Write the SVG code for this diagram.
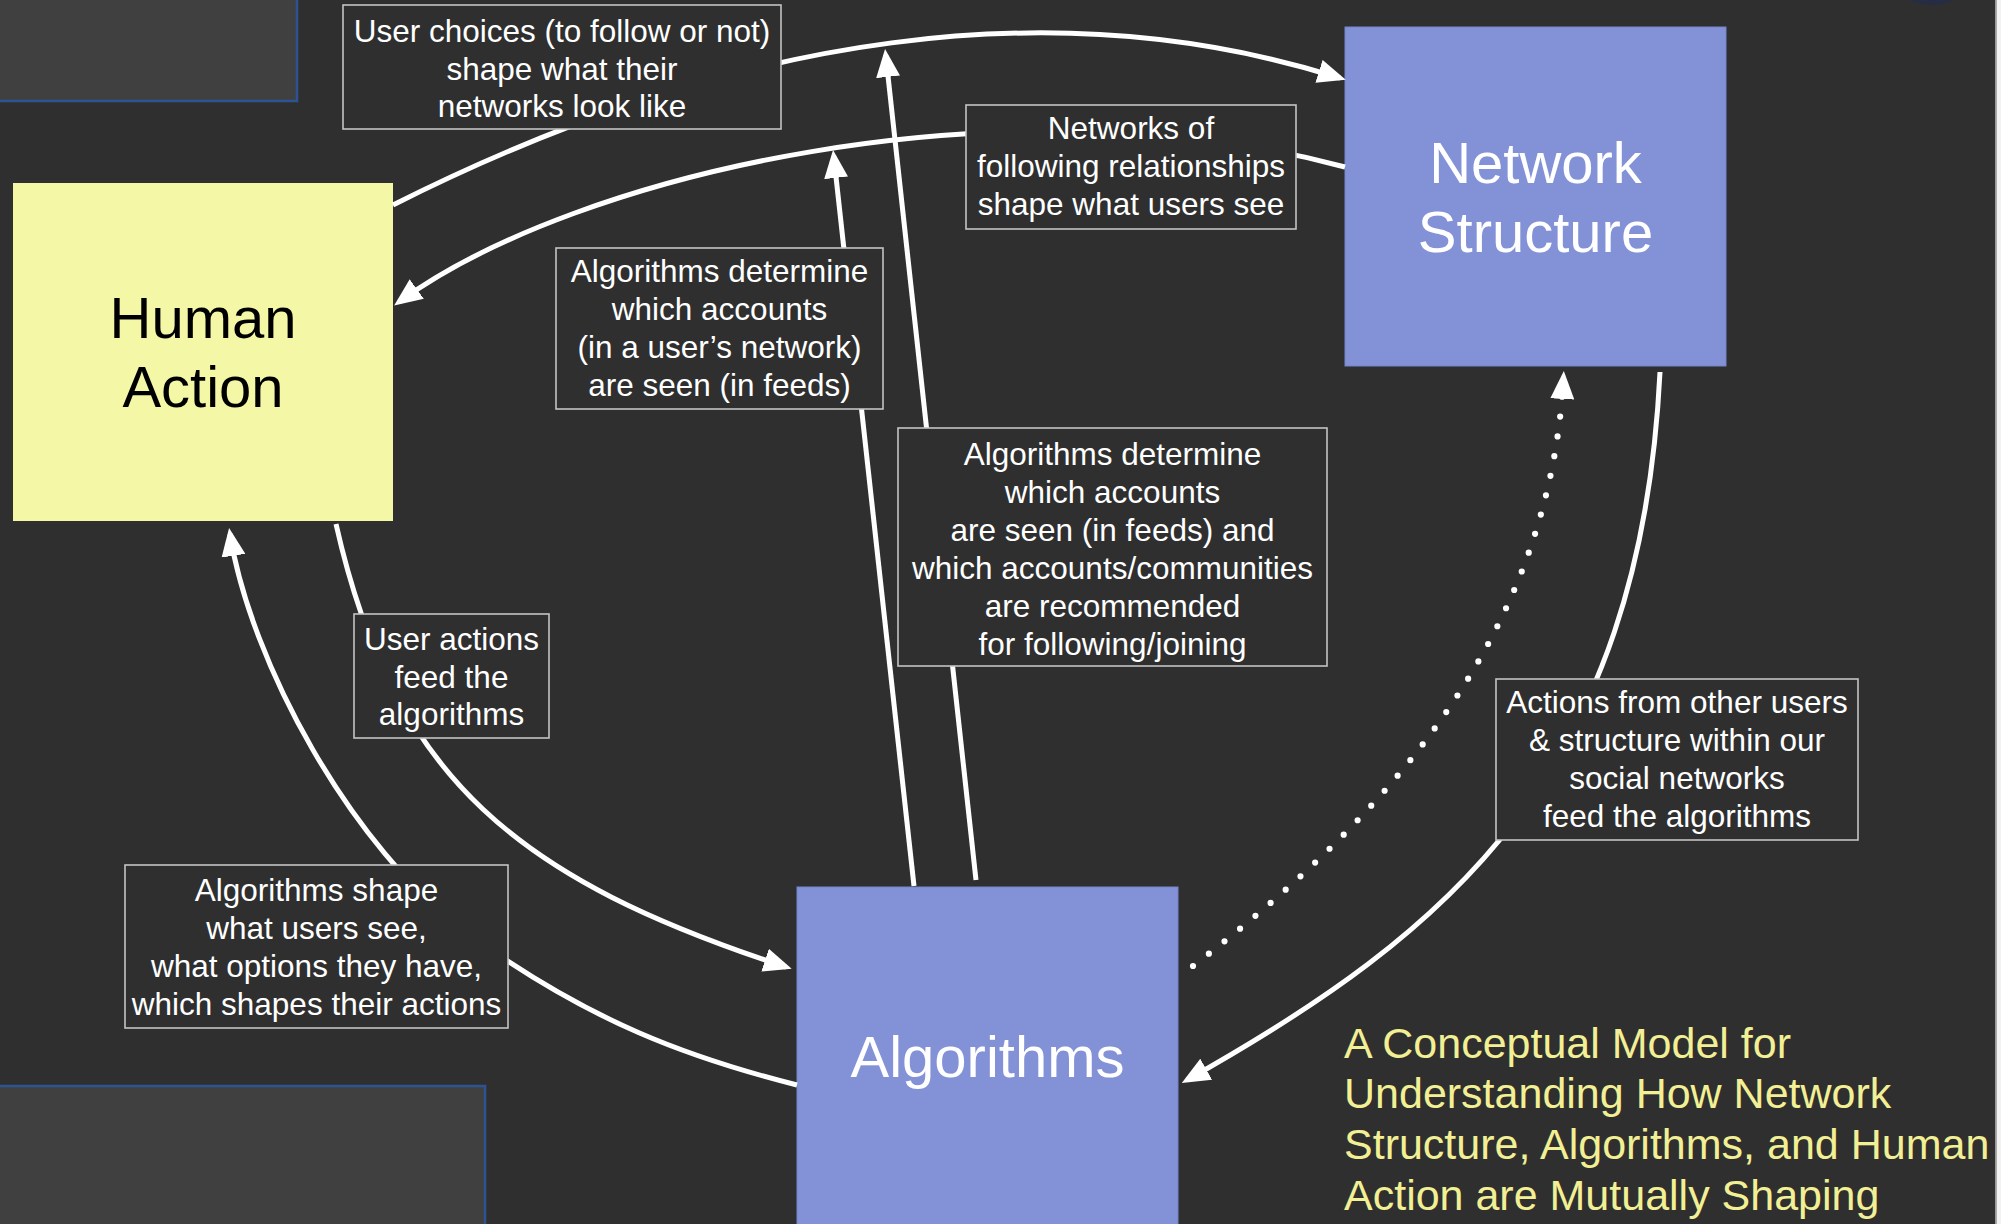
<svg xmlns="http://www.w3.org/2000/svg" width="2001" height="1224" viewBox="0 0 2001 1224">
  <style>
    .bg { fill: #2f2f2f; }
    .panel { fill: #404040; stroke: #2d5393; stroke-width: 2.5; }
    .node-y { fill: #f3f7a6; }
    .node-b { fill: #8392d6; stroke: #7585cb; stroke-width: 1; }
    .node-text { font-family: "Liberation Sans", Arial, Helvetica, sans-serif; font-size: 58px; text-anchor: middle; }
    .lbl-box { fill: #2f2f2f; stroke: #c4c4c4; stroke-width: 1.6; }
    .lbl { font-family: "Liberation Sans", Arial, Helvetica, sans-serif; font-size: 31.5px; fill: #ffffff; text-anchor: middle; }
    .edge { fill: none; stroke: #ffffff; stroke-width: 5; marker-end: url(#ah); }
    .dotted { fill: none; stroke: #ffffff; stroke-width: 6.2; stroke-linecap: round; stroke-dasharray: 0 20; marker-end: url(#ah); }
    .title { font-family: "Liberation Sans", Arial, Helvetica, sans-serif; font-size: 43px; fill: #f2ef94; }
  </style>
  <defs>
    <marker id="ah" viewBox="0 0 28 24" refX="22" refY="12" markerWidth="28" markerHeight="24" markerUnits="userSpaceOnUse" orient="auto">
      <path d="M0,0 L28,12 L0,24 z" fill="#ffffff"/>
    </marker>
  </defs>

  <!-- backdrop -->
  <rect class="bg" x="0" y="0" width="2001" height="1224"/>
  <rect class="panel" x="-10" y="-10" width="307" height="111"/>
  <rect class="panel" x="-10" y="1086" width="495" height="150"/>
  <circle cx="1932" cy="-45" r="50" fill="#262c44"/>
  <rect x="1995" y="0" width="1.5" height="1224" fill="#9a9a9a"/>
  <rect x="1996.5" y="0" width="5" height="1224" fill="#f2f2f2"/>

  <!-- nodes -->
  <g id="human-action">
    <rect class="node-y" x="13" y="183" width="380" height="338"/>
    <text class="node-text" fill="#000000"><tspan x="203" y="337.5">Human</tspan><tspan x="203" y="407">Action</tspan></text>
  </g>
  <g id="network-structure">
    <rect class="node-b" x="1345" y="27" width="381" height="339"/>
    <text class="node-text" fill="#ffffff"><tspan x="1535.5" y="183">Network</tspan><tspan x="1535.5" y="252">Structure</tspan></text>
  </g>
  <g id="algorithms">
    <rect class="node-b" x="797" y="887" width="381" height="345"/>
    <text class="node-text" fill="#ffffff" x="987.5" y="1077">Algorithms</text>
  </g>

  <!-- connectors -->
  <g id="connectors">
    <!-- Human Action -> Network Structure (user choices) -->
    <path class="edge" d="M 393 205 C 740 30, 1060 -10, 1340 78"/>
    <!-- Network Structure -> Human Action (following relationships) -->
    <path class="edge" d="M 1345 167 C 1006 76, 577 172, 399 302"/>
    <!-- Algorithms -> curve into Human Action -->
    <path class="edge" d="M 914 886 L 833.7 156"/>
    <!-- Algorithms -> curve into Network Structure -->
    <path class="edge" d="M 976 880 L 885.7 55"/>
    <!-- Human Action -> Algorithms (user actions) -->
    <path class="edge" d="M 336 524 C 394 781, 520 880, 786 967"/>
    <!-- Algorithms -> Human Action (shapes actions) -->
    <path class="edge" d="M 797 1085 C 690 1058, 590 1022, 470 935 C 350 848, 250 660, 230 534"/>
    <!-- Network Structure -> Algorithms (other users & structure) -->
    <path class="edge" d="M 1660 372 C 1640 775, 1448 933, 1187 1080"/>
    <!-- Algorithms -> Network Structure (dotted influence) -->
    <path class="dotted" d="M 1193 966 C 1399 808, 1550 627, 1563.5 377"/>
  </g>

  <!-- connector labels -->
  <g id="labels">
    <g id="label-user-choices">
      <rect class="lbl-box" x="343" y="5" width="438" height="124"/>
      <text class="lbl"><tspan x="562" y="41.5">User choices (to follow or not)</tspan><tspan x="562" y="79.5">shape what their</tspan><tspan x="562" y="117">networks look like</tspan></text>
    </g>
    <g id="label-following">
      <rect class="lbl-box" x="966" y="105" width="330" height="124"/>
      <text class="lbl"><tspan x="1131" y="139">Networks of</tspan><tspan x="1131" y="177">following relationships</tspan><tspan x="1131" y="215">shape what users see</tspan></text>
    </g>
    <g id="label-seen-in-network">
      <rect class="lbl-box" x="556" y="248" width="327" height="161"/>
      <text class="lbl"><tspan x="719.5" y="282">Algorithms determine</tspan><tspan x="719.5" y="320">which accounts</tspan><tspan x="719.5" y="358">(in a user’s network)</tspan><tspan x="719.5" y="396">are seen (in feeds)</tspan></text>
    </g>
    <g id="label-recommended">
      <rect class="lbl-box" x="898" y="428" width="429" height="238"/>
      <text class="lbl"><tspan x="1112.5" y="464.6">Algorithms determine</tspan><tspan x="1112.5" y="502.6">which accounts</tspan><tspan x="1112.5" y="540.6">are seen (in feeds) and</tspan><tspan x="1112.5" y="578.6">which accounts/communities</tspan><tspan x="1112.5" y="616.6">are recommended</tspan><tspan x="1112.5" y="654.6">for following/joining</tspan></text>
    </g>
    <g id="label-user-actions">
      <rect class="lbl-box" x="354" y="614" width="195" height="124"/>
      <text class="lbl"><tspan x="451.5" y="650">User actions</tspan><tspan x="451.5" y="687.5">feed the</tspan><tspan x="451.5" y="725">algorithms</tspan></text>
    </g>
    <g id="label-shape-actions">
      <rect class="lbl-box" x="125" y="865" width="383" height="163"/>
      <text class="lbl"><tspan x="316.5" y="901">Algorithms shape</tspan><tspan x="316.5" y="939">what users see,</tspan><tspan x="316.5" y="977">what options they have,</tspan><tspan x="316.5" y="1015">which shapes their actions</tspan></text>
    </g>
    <g id="label-other-users">
      <rect class="lbl-box" x="1496" y="679" width="362" height="161"/>
      <text class="lbl"><tspan x="1677" y="713">Actions from other users</tspan><tspan x="1677" y="751">&amp; structure within our</tspan><tspan x="1677" y="789">social networks</tspan><tspan x="1677" y="827">feed the algorithms</tspan></text>
    </g>
  </g>

  <!-- caption -->
  <text class="title"><tspan x="1344" y="1058">A Conceptual Model for</tspan><tspan x="1344" y="1108">Understanding How Network</tspan><tspan x="1344" y="1159">Structure, Algorithms, and Human</tspan><tspan x="1344" y="1210">Action are Mutually Shaping</tspan></text>
</svg>
